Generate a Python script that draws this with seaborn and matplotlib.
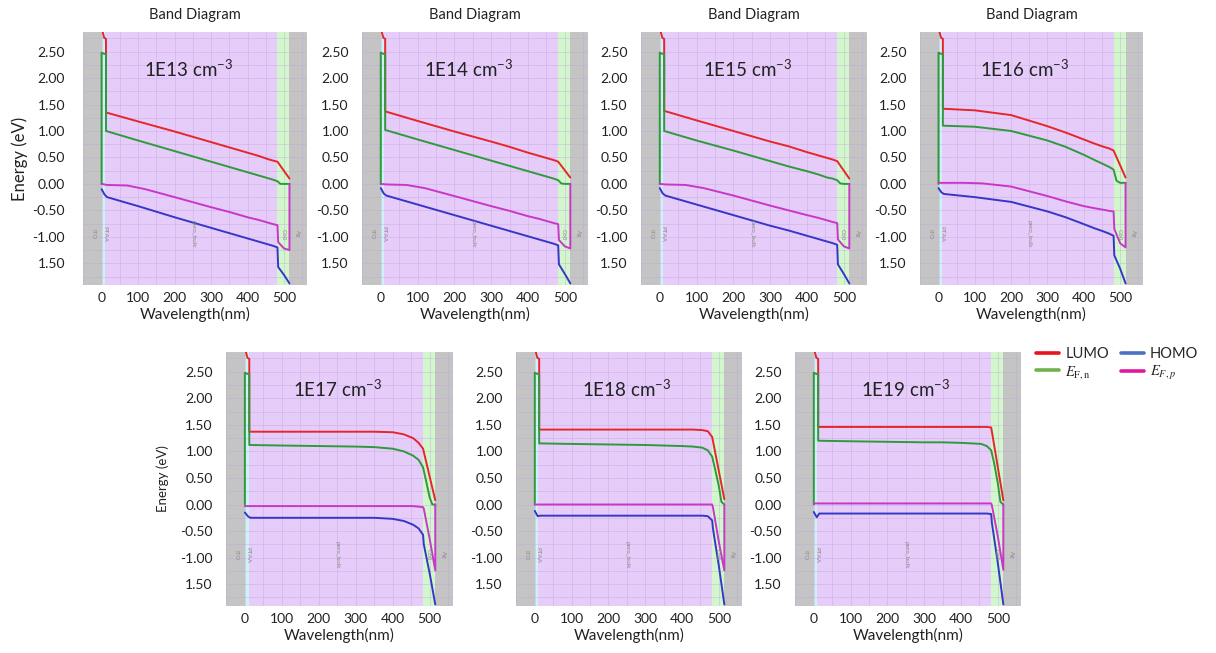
import numpy as np
import pandas as pd
import matplotlib
matplotlib.use("Agg")
import matplotlib.pyplot as plt
from matplotlib.ticker import MultipleLocator, FixedLocator, FixedFormatter
from matplotlib.lines import Line2D
import seaborn as sns

# ---------------- data ----------------
CONCENTRATIONS = ["1E13", "1E14", "1E15", "1E16", "1E17", "1E18", "1E19"]

LAYER_NAMES = ["ITO", "PTAA", "pero_bulk", "C60", "Ag"]
LAYER_EDGES = [-80, 0, 10, 482, 515, 600]

XTICKS = [0, 100, 200, 300, 400, 500]
YTICKS = [2.5, 2.0, 1.5, 1.0, 0.5, 0.0, -0.5, -1.0, -1.5]
YTICK_LABELS = ["2.50", "2.00", "1.50", "1.00", "0.50", "0.00", "-0.50", "-1.00", "1.50"]

# LUMO (conduction level)
LUMO_X = [0, 7, 12, 12, 100, 200, 300, 350, 400, 430, 455, 470, 482, 515]
LUMO_1E13 = [2.95, 2.76, 2.74, 1.35, 1.18, 0.99, 0.79, 0.69, 0.59, 0.53, 0.47, 0.44, 0.42, 0.10]
LUMO_1E14 = [2.95, 2.76, 2.74, 1.37, 1.19, 0.99, 0.80, 0.70, 0.59, 0.53, 0.48, 0.45, 0.42, 0.12]
LUMO_1E15 = [2.95, 2.76, 2.74, 1.38, 1.20, 1.00, 0.80, 0.71, 0.60, 0.54, 0.49, 0.46, 0.43, 0.10]
LUMO_1E16 = [2.95, 2.76, 2.74, 1.42, 1.39, 1.30, 1.09, 0.97, 0.84, 0.76, 0.70, 0.67, 0.63, 0.12]
LUMO_1E17 = [2.95, 2.76, 2.74, 1.37, 1.37, 1.37, 1.37, 1.37, 1.36, 1.32, 1.25, 1.16, 1.05, 0.08]
LUMO_1E18 = [2.95, 2.76, 2.74, 1.41, 1.41, 1.41, 1.41, 1.41, 1.41, 1.41, 1.40, 1.38, 1.27, 0.10]
LUMO_1E19 = [2.95, 2.76, 2.74, 1.46, 1.46, 1.46, 1.46, 1.46, 1.46, 1.46, 1.46, 1.46, 1.45, 0.08]

# HOMO (valence level)
HOMO_X = [0, 8, 15, 100, 200, 300, 350, 400, 430, 455, 470, 482, 484, 500, 515]
HOMO_1E13 = [-0.10, -0.20, -0.25, -0.42, -0.63, -0.83, -0.93, -1.03, -1.09, -1.14, -1.17, -1.20, -1.57, -1.72, -1.88]
HOMO_1E14 = [-0.08, -0.18, -0.22, -0.39, -0.59, -0.79, -0.89, -0.99, -1.05, -1.10, -1.13, -1.16, -1.52, -1.70, -1.88]
HOMO_1E15 = [-0.08, -0.18, -0.22, -0.39, -0.59, -0.79, -0.88, -0.98, -1.04, -1.09, -1.12, -1.15, -1.52, -1.70, -1.88]
HOMO_1E16 = [-0.08, -0.16, -0.19, -0.25, -0.34, -0.52, -0.63, -0.76, -0.84, -0.90, -0.94, -0.98, -1.35, -1.60, -1.88]
HOMO_1E17 = [-0.15, -0.22, -0.25, -0.25, -0.25, -0.25, -0.25, -0.27, -0.31, -0.38, -0.45, -0.57, -0.75, -1.30, -1.88]
HOMO_1E18 = [-0.12, -0.22, -0.21, -0.21, -0.21, -0.21, -0.21, -0.21, -0.21, -0.21, -0.22, -0.30, -0.45, -1.15, -1.88]
HOMO_1E19 = [-0.14, -0.24, -0.17, -0.17, -0.17, -0.17, -0.17, -0.17, -0.17, -0.17, -0.17, -0.18, -0.35, -1.10, -1.88]

# Electron quasi-Fermi level
EFN_X = [0, 0, 6, 12, 12, 100, 200, 300, 350, 400, 430, 455, 470, 482, 490, 500, 507, 515]
EFN_1E13 = [0.0, 2.48, 2.46, 2.45, 1.00, 0.82, 0.62, 0.42, 0.32, 0.22, 0.16, 0.11, 0.08, 0.05, 0.0, 0.0, 0.0, 0.0]
EFN_1E14 = [0.0, 2.48, 2.46, 2.45, 1.02, 0.84, 0.64, 0.44, 0.34, 0.24, 0.18, 0.13, 0.10, 0.07, 0.01, 0.0, 0.0, 0.0]
EFN_1E15 = [0.0, 2.48, 2.46, 2.45, 1.00, 0.82, 0.63, 0.43, 0.33, 0.24, 0.18, 0.12, 0.10, 0.07, 0.01, 0.0, 0.0, 0.0]
EFN_1E16 = [0.0, 2.48, 2.46, 2.45, 1.10, 1.08, 1.00, 0.82, 0.70, 0.55, 0.45, 0.37, 0.32, 0.27, 0.06, 0.02, 0.02, 0.02]
EFN_1E17 = [0.0, 2.48, 2.46, 2.45, 1.12, 1.11, 1.10, 1.09, 1.08, 1.05, 1.00, 0.92, 0.84, 0.70, 0.45, 0.13, 0.0, 0.0]
EFN_1E18 = [0.0, 2.48, 2.46, 2.45, 1.15, 1.14, 1.13, 1.12, 1.11, 1.10, 1.09, 1.07, 1.02, 0.90, 0.66, 0.35, 0.05, 0.0]
EFN_1E19 = [0.0, 2.48, 2.46, 2.45, 1.20, 1.19, 1.18, 1.17, 1.17, 1.16, 1.15, 1.14, 1.10, 1.02, 0.78, 0.40, 0.05, 0.0]

# Hole quasi-Fermi level
EFP_X = [0, 15, 70, 120, 200, 300, 350, 400, 430, 455, 470, 482, 484, 500, 515, 515]
EFP_1E13 = [0.0, -0.02, -0.03, -0.10, -0.25, -0.44, -0.53, -0.63, -0.68, -0.73, -0.76, -0.78, -1.10, -1.22, -1.25, 0.0]
EFP_1E14 = [0.0, -0.01, -0.02, -0.08, -0.23, -0.42, -0.51, -0.61, -0.66, -0.71, -0.74, -0.76, -1.06, -1.18, -1.22, 0.0]
EFP_1E15 = [0.0, -0.01, -0.02, -0.08, -0.22, -0.41, -0.50, -0.59, -0.64, -0.69, -0.72, -0.74, -1.05, -1.18, -1.22, 0.0]
EFP_1E16 = [0.02, 0.02, 0.02, 0.01, -0.05, -0.23, -0.33, -0.42, -0.46, -0.49, -0.51, -0.52, -0.85, -1.12, -1.20, 0.02]
EFP_1E17 = [-0.03, -0.03, -0.03, -0.03, -0.03, -0.03, -0.03, -0.03, -0.03, -0.03, -0.04, -0.05, -0.08, -0.65, -1.24, 0.0]
EFP_1E18 = [0.0, 0.0, 0.0, 0.0, 0.0, 0.0, 0.0, 0.0, 0.0, 0.0, 0.0, 0.0, -0.05, -0.70, -1.24, 0.0]
EFP_1E19 = [0.02, 0.02, 0.02, 0.02, 0.02, 0.02, 0.02, 0.02, 0.02, 0.02, 0.02, 0.02, -0.02, -0.60, -1.23, 0.0]

LUMO_Y = [LUMO_1E13, LUMO_1E14, LUMO_1E15, LUMO_1E16, LUMO_1E17, LUMO_1E18, LUMO_1E19]
HOMO_Y = [HOMO_1E13, HOMO_1E14, HOMO_1E15, HOMO_1E16, HOMO_1E17, HOMO_1E18, HOMO_1E19]
EFN_Y = [EFN_1E13, EFN_1E14, EFN_1E15, EFN_1E16, EFN_1E17, EFN_1E18, EFN_1E19]
EFP_Y = [EFP_1E13, EFP_1E14, EFP_1E15, EFP_1E16, EFP_1E17, EFP_1E18, EFP_1E19]

# ---------------- style ----------------
sns.set_theme(style="white")
plt.rcParams["font.family"] = ["Lato", "DejaVu Sans"]
plt.rcParams["mathtext.fontset"] = "stix"

LINE_COLORS = {"LUMO": "#e5262b", "HOMO": "#3636c8", "EFn": "#2f9a3c", "EFp": "#c837c8"}
LEGEND_COLORS = {"LUMO": "#e8131b", "HOMO": "#4a72c4", "EFn": "#72b04a", "EFp": "#e0189e"}
LAYER_COLORS = ["#c4c4c4", "#cdf3f6", "#e6cdf9", "#d2f7cd", "#c4c4c4"]
GRID_COLOR = "#c3a2df"

W, H = 1216, 653
PANEL_PX = [  # left, top, right, bottom in pixels
    (83, 32, 307, 285),
    (362, 32, 588, 285),
    (641, 32, 867, 285),
    (920, 32, 1143, 285),
    (226, 352, 453, 606),
    (516, 352, 742, 606),
    (795, 352, 1021, 606),
]
LAYER_LABEL_X = [-25, 9, 250, 497, 537]

fig = plt.figure(figsize=(W / 100, H / 100), dpi=100)
fig.patch.set_facecolor("white")

for i, conc in enumerate(CONCENTRATIONS):
    l, t, r, b = PANEL_PX[i]
    ax = fig.add_axes([l / W, 1 - b / H, (r - l) / W, (b - t) / H])

    # device layers
    for k, name in enumerate(LAYER_NAMES):
        ax.axvspan(LAYER_EDGES[k], LAYER_EDGES[k + 1], color=LAYER_COLORS[k], lw=0, zorder=0.2)

    frames = []
    for band, xs, ys in (("LUMO", LUMO_X, LUMO_Y[i]), ("EFn", EFN_X, EFN_Y[i]),
                         ("EFp", EFP_X, EFP_Y[i]), ("HOMO", HOMO_X, HOMO_Y[i])):
        frames.append(pd.DataFrame({"x": xs, "E": ys, "band": band}))
    df = pd.concat(frames, ignore_index=True)
    sns.lineplot(data=df, x="x", y="E", hue="band", palette=LINE_COLORS, sort=False,
                 estimator=None, legend=False, lw=1.4, ax=ax, zorder=3)

    ax.set_xlim(-51, 563)
    ax.set_ylim(-1.91, 2.87)

    ax.xaxis.set_major_locator(FixedLocator(XTICKS))
    ax.yaxis.set_major_locator(FixedLocator(YTICKS))
    ax.yaxis.set_major_formatter(FixedFormatter(YTICK_LABELS))
    ax.xaxis.set_minor_locator(MultipleLocator(50))
    ax.yaxis.set_minor_locator(MultipleLocator(0.25))
    ax.set_axisbelow(False)
    ax.grid(which="both", color=GRID_COLOR, lw=0.6, alpha=0.45, zorder=1)
    for s in ax.spines.values():
        s.set_visible(False)
    ypad = 13 if i == 0 else 9.5
    ax.tick_params(axis="y", which="both", length=0, pad=ypad, labelsize=10, labelcolor="#222222")
    ax.tick_params(axis="x", which="both", length=0, pad=5, labelsize=10, labelcolor="#222222")

    ax.set_xlabel("Wavelength(nm)", fontsize=11, color="#222222", labelpad=2)
    if i == 0:
        ax.set_ylabel("Energy (eV)", fontsize=12, color="#222222", labelpad=3)
    elif i == 4:
        ax.set_ylabel("Energy (eV)", fontsize=9.5, color="#222222", labelpad=8)
    else:
        ax.set_ylabel("")
    if i < 4:
        ax.set_title("Band Diagram", fontsize=10.5, color="#222222", pad=9)

    # concentration label
    ax.text(0.47 if i < 4 else 0.49, 0.855, conc + r" cm$^{\mathregular{-3}}$",
            transform=ax.transAxes, ha="center", va="center", fontsize=13.5, color="#222222", zorder=5)

    # layer name labels
    for k, name in enumerate(LAYER_NAMES):
        ax.text(LAYER_LABEL_X[k], -0.95, name, rotation=270, ha="center", va="center", fontsize=4.5,
                color="#8c8c8c", zorder=4)

handles = [
    Line2D([], [], color=LEGEND_COLORS["LUMO"], lw=2.6),
    Line2D([], [], color=LEGEND_COLORS["EFn"], lw=2.6),
    Line2D([], [], color=LEGEND_COLORS["HOMO"], lw=2.6),
    Line2D([], [], color=LEGEND_COLORS["EFp"], lw=2.6),
]
labels = ["LUMO", r"$E_{\mathrm{F,n}}$", "HOMO", r"$E_{F,p}$"]
fig.legend(handles, labels, ncol=2, loc="upper left", bbox_to_anchor=(1036 / W, 1 - 347 / H),
           frameon=False, fontsize=10.5, handlelength=1.6, handletextpad=0.4, columnspacing=0.8,
           labelspacing=0.2, borderaxespad=0, borderpad=0)

fig.savefig("out.png", dpi=100, facecolor="white")
